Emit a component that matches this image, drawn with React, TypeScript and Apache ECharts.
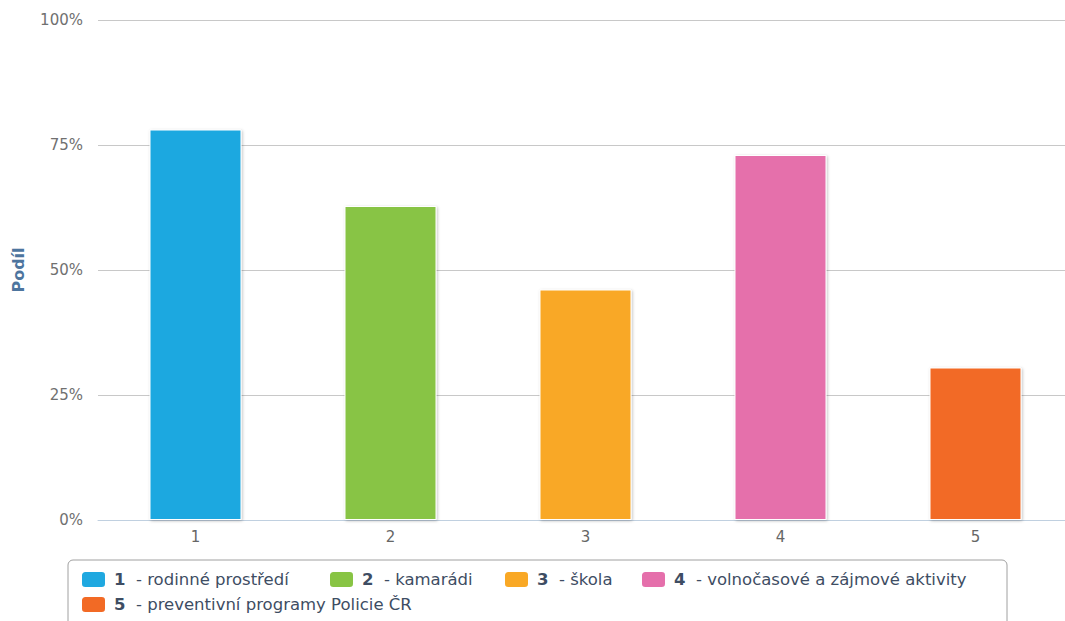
import React, { useEffect, useRef } from "react";
import * as echarts from "echarts";

const categories = ["1", "2", "3", "4", "5"];
const labels = [
  "rodinné prostředí",
  "kamarádi",
  "škola",
  "volnočasové a zájmové aktivity",
  "preventivní programy Policie ČR",
];
const values = [78.1, 62.8, 46.1, 73.0, 30.5];
const colors = ["#1fa8e0", "#88c444", "#f9a825", "#e56fab", "#f26a25"];
const yTicks = [0, 25, 50, 75, 100];

const FONT = "DejaVu Sans";
const legendLefts = [80, 328, 503, 640, 80];
const legendTops = [570, 570, 570, 570, 595];

export default function App() {
  const ref = useRef<HTMLDivElement>(null);
  useEffect(() => {
    document.body.style.margin = "0";
    const chart = echarts.init(ref.current!, null, { renderer: "svg" });
    const series = categories.map((c, i) => ({
      name: c,
      type: "bar",
      barWidth: 92,
      barGap: "-100%",
      data: categories.map((_, j) => (j === i ? values[i] : null)),
      itemStyle: {
        color: colors[i],
        borderColor: "#ffffff",
        borderWidth: 1,
        shadowBlur: 3,
        shadowColor: "rgba(0,0,0,0.25)",
        shadowOffsetX: 1,
        shadowOffsetY: 1,
      },
    }));
    const legends = categories.map((c, i) => ({
      left: legendLefts[i],
      top: legendTops[i],
      data: [c],
      itemWidth: 25,
      itemHeight: 17,
      icon: "roundRect",
      padding: 0,
      selectedMode: false,
      formatter: (name: string) => {
        const k = categories.indexOf(name);
        return `{n|${name}}  - ${labels[k]}`;
      },
      textStyle: {
        fontFamily: FONT,
        fontSize: 16.5,
        color: "#3e4d63",
        padding: [0, 0, 0, 3],
        rich: {
          n: { fontFamily: FONT, fontSize: 16.5, fontWeight: "bold", color: "#3e4d63" },
        },
      },
    }));
    chart.setOption({
      animation: false,
      grid: { left: 98, right: 0, top: 20, bottom: 101, containLabel: false },
      graphic: [
        {
          type: "rect",
          shape: { x: 68, y: 560, width: 939, height: 80, r: 5 },
          style: { fill: "#ffffff", stroke: "#a0a0a0", lineWidth: 1 },
          z: -1,
        },
      ],
      legend: legends,
      xAxis: {
        type: "category",
        data: categories,
        axisLine: { lineStyle: { color: "#c0d0e0" } },
        axisTick: { lineStyle: { color: "#c0d0e0" }, length: 8 },
        axisLabel: { color: "#666666", fontFamily: FONT, fontSize: 15, margin: 9 },
      },
      yAxis: {
        type: "value",
        min: yTicks[0],
        max: yTicks[yTicks.length - 1],
        interval: 25,
        name: "Podíl",
        nameLocation: "middle",
        nameGap: 72,
        nameTextStyle: { color: "#4d759e", fontFamily: FONT, fontSize: 16, fontWeight: "bold" },
        axisLabel: { formatter: "{value}%", color: "#707070", fontFamily: FONT, fontSize: 15, margin: 15 },
        splitLine: { lineStyle: { color: "#c8c8c8" } },
      },
      series,
    });
    return () => chart.dispose();
  }, []);
  return (
    <div style={{ width: 1065, height: 621, overflow: "hidden" }}>
      <div ref={ref} style={{ width: 1073, height: 621 }} />
    </div>
  );
}
